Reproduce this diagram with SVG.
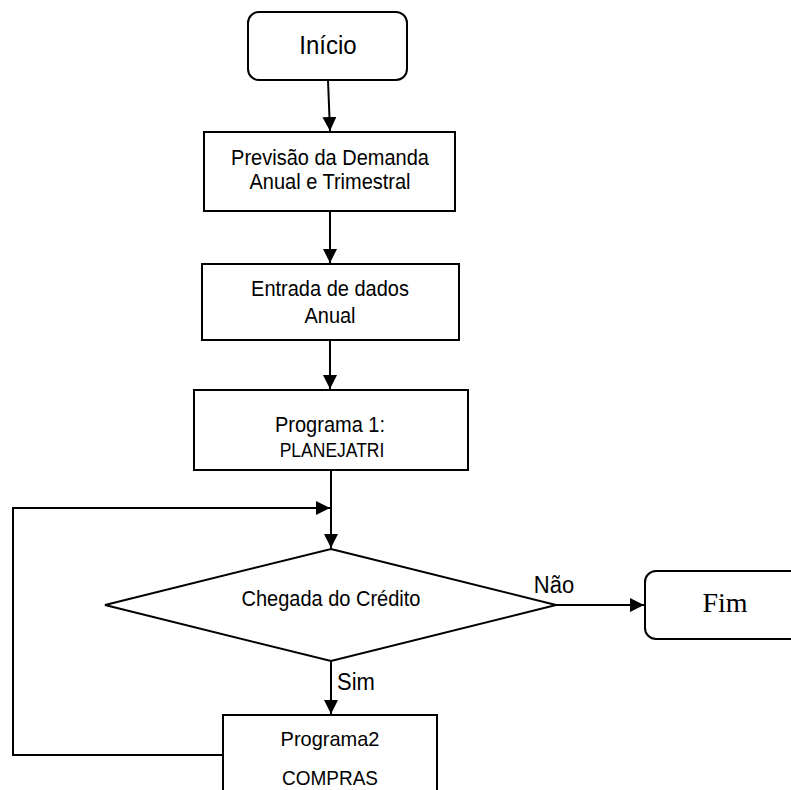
<svg xmlns="http://www.w3.org/2000/svg" width="791" height="790" viewBox="0 0 791 790">
<style>
.box{fill:#fff;stroke:#000;stroke-width:2}
.ln{fill:none;stroke:#000;stroke-width:2}
.t{font-family:"Liberation Sans",Arial,sans-serif;fill:#000;text-anchor:middle}
</style>
<defs>
<marker id="ahb" viewBox="0 0 10 10" refX="10" refY="5" markerWidth="14" markerHeight="14" markerUnits="userSpaceOnUse" orient="auto">
<path d="M0,0 L10,5 L0,10 z" fill="#000"/>
</marker>
</defs>
<rect width="791" height="790" fill="#fff"/>
<g id="connectors">
<line class="ln" x1="328" y1="80" x2="330" y2="131" marker-end="url(#ahb)"/>
<line class="ln" x1="330" y1="211" x2="330" y2="263" marker-end="url(#ahb)"/>
<line class="ln" x1="330" y1="340" x2="330" y2="389" marker-end="url(#ahb)"/>
<line class="ln" x1="331" y1="470" x2="331" y2="548" marker-end="url(#ahb)"/>
<polyline class="ln" points="223,755 13,755 13,508 330,508" marker-end="url(#ahb)"/>
<line class="ln" x1="556" y1="605" x2="644" y2="605" marker-end="url(#ahb)"/>
<line class="ln" x1="331" y1="661" x2="331" y2="714" marker-end="url(#ahb)"/>
<text class="t" transform="translate(554,593) scale(1,1.12)" font-size="22">Não</text>
<text class="t" transform="translate(356,690) scale(1,1.12)" font-size="22">Sim</text>
</g>
<g id="inicio">
<rect class="box" x="248" y="12" width="159" height="68" rx="11"/>
<text class="t" transform="translate(328,54) scale(1,1.05)" font-size="24">Início</text>
</g>
<g id="previsao">
<rect class="box" x="204" y="132" width="251" height="79"/>
<text class="t" transform="translate(330,165) scale(1,1.1)" font-size="20">Previsão da Demanda</text>
<text class="t" transform="translate(330,189) scale(1,1.1)" font-size="20">Anual e Trimestral</text>
</g>
<g id="entrada">
<rect class="box" x="202" y="264" width="257" height="76"/>
<text class="t" transform="translate(330,296) scale(1,1.1)" font-size="20">Entrada de dados</text>
<text class="t" transform="translate(330,323) scale(1,1.1)" font-size="20">Anual</text>
</g>
<g id="programa1">
<rect class="box" x="194" y="390" width="274" height="80"/>
<text class="t" transform="translate(330,432) scale(1,1.1)" font-size="20">Programa 1:</text>
<text class="t" transform="translate(332,457) scale(1,1.2)" font-size="17.5">PLANEJATRI</text>
</g>
<g id="decisao">
<polygon class="box" points="331,549 556,605 331,661 105,605"/>
<text class="t" transform="translate(331,606) scale(1,1.1)" font-size="20">Chegada do Crédito</text>
</g>
<g id="fim">
<rect class="box" x="645" y="571" width="160" height="68" rx="11"/>
<text x="725" y="612" font-size="28" font-family="'Liberation Serif','Times New Roman',serif" text-anchor="middle">Fim</text>
</g>
<g id="programa2">
<rect class="box" x="223" y="715" width="214" height="90"/>
<text class="t" transform="translate(330,746) scale(1,1.05)" font-size="20">Programa2</text>
<text class="t" transform="translate(330,785) scale(1,1.1)" font-size="19">COMPRAS</text>
</g>
</svg>
